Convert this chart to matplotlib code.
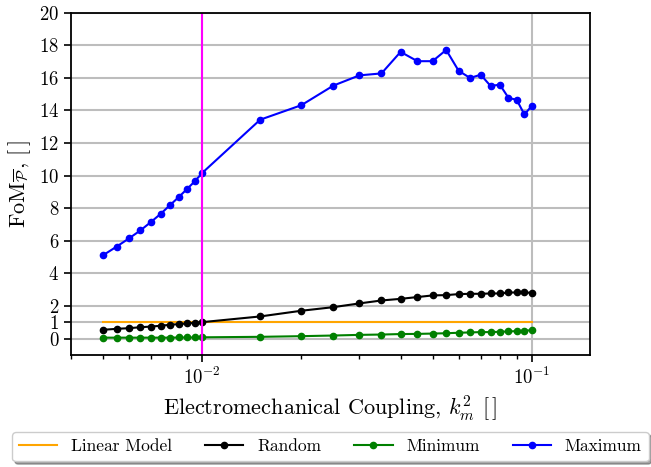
import matplotlib
matplotlib.use('Agg')
import matplotlib.pyplot as plt

plt.rcParams['font.family'] = 'serif'
plt.rcParams['font.serif'] = ['cmr10']
plt.rcParams['mathtext.fontset'] = 'cm'
plt.rcParams['axes.unicode_minus'] = False
plt.rcParams['axes.formatter.use_mathtext'] = True

# --- Data ---
k2 = [0.005, 0.0055, 0.006, 0.0065, 0.007, 0.0075, 0.008, 0.0085, 0.009, 0.0095, 0.01,
      0.015, 0.02, 0.025, 0.03, 0.035, 0.04, 0.045, 0.05, 0.055, 0.06, 0.065,
      0.07, 0.075, 0.08, 0.085, 0.09, 0.095, 0.1]

linear_x = [0.005, 0.1]
linear_y = [1.0, 1.0]

fom_random = [0.54, 0.60, 0.64, 0.70, 0.74, 0.79, 0.85, 0.89, 0.93, 0.97, 1.01,
              1.36, 1.71, 1.93, 2.16, 2.34, 2.44, 2.55, 2.65, 2.67, 2.73, 2.75,
              2.75, 2.77, 2.77, 2.83, 2.83, 2.83, 2.81]

fom_min = [0.06, 0.06, 0.06, 0.06, 0.06, 0.06, 0.06, 0.07, 0.07, 0.07, 0.08,
           0.11, 0.15, 0.19, 0.23, 0.25, 0.28, 0.29, 0.31, 0.33, 0.36, 0.38,
           0.40, 0.40, 0.42, 0.44, 0.46, 0.48, 0.52]

fom_max = [5.11, 5.64, 6.15, 6.64, 7.16, 7.67, 8.20, 8.69, 9.18, 9.65, 10.16,
           13.43, 14.32, 15.52, 16.15, 16.27, 17.59, 17.02, 17.02, 17.71, 16.43, 15.99,
           16.19, 15.50, 15.58, 14.77, 14.65, 13.75, 14.28]

y_ticks = [0, 1, 2, 4, 6, 8, 10, 12, 14, 16, 18, 20]
k2_design = 0.01

# --- Plot ---
fig = plt.figure(figsize=(6.51, 4.67), dpi=100)
ax = fig.add_axes([0.109, 0.240, 0.797, 0.733])

ax.plot(linear_x, linear_y, color='orange', lw=1.5, label='Linear Model')
ax.plot(k2, fom_random, color='black', marker='o', ms=4.5, lw=1.5, label='Random')
ax.plot(k2, fom_min, color='green', marker='o', ms=4.5, lw=1.5, label='Minimum')
ax.plot(k2, fom_max, color='blue', marker='o', ms=4.5, lw=1.5, label='Maximum')
ax.axvline(k2_design, color='magenta', lw=1.5)

ax.set_xscale('log')
ax.set_xlim(0.004, 0.15)
ax.set_ylim(-1, 20)
ax.set_yticks(y_ticks)
ax.grid(True, which='major', color='#bdbdbd', lw=1.5)
ax.set_axisbelow(True)

for spine in ax.spines.values():
    spine.set_linewidth(1.3)
ax.tick_params(which='major', length=5, width=1.2, labelsize=13.5)
ax.tick_params(which='minor', length=3, width=1.0)

# units are dimensionless, shown as empty brackets
ax.set_xlabel(r'Electromechanical Coupling, $k_m^2$ $[\,]$', fontsize=16)
ax.set_ylabel(r'FoM$_{\overline{\mathcal{P}}}$, $[\,]$', fontsize=16)

ax.legend(loc='upper center', bbox_to_anchor=(0.5, -0.2), ncol=4,
          shadow=True, fancybox=True, fontsize=12.5, columnspacing=1.9,
          handlelength=2.2)

fig.savefig('out.png', dpi=100)
